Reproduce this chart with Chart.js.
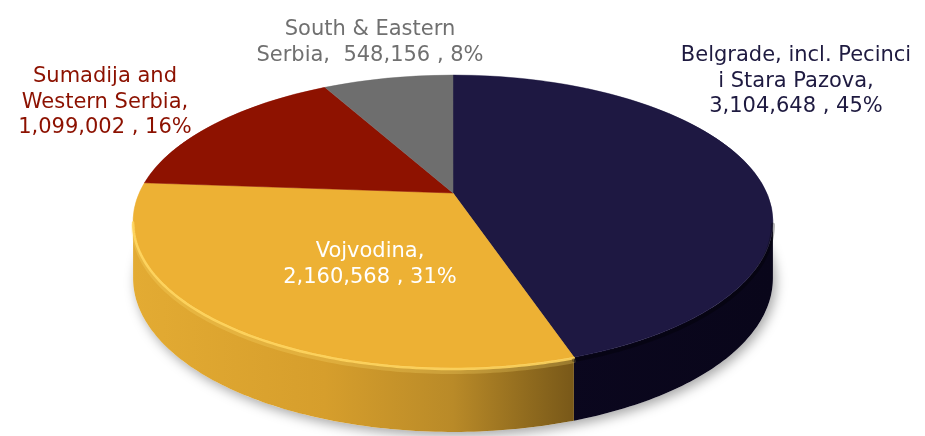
<!DOCTYPE html>
<html>
<head>
<meta charset="utf-8">
<script src="https://cdn.jsdelivr.net/npm/chart.js@4.4.1/dist/chart.umd.min.js"></script>
<style>
  html, body { margin: 0; padding: 0; background: #fff; }
  #wrap { width: 925px; height: 436px; }
</style>
</head>
<body>
<div id="wrap"><canvas id="pie" width="925" height="436"></canvas></div>
<script>
const regions = ["Belgrade, incl. Pecinci i Stara Pazova", "Vojvodina", "Sumadija and Western Serbia", "South & Eastern Serbia"];
const population = [3104648, 2160568, 1099002, 548156];
const topColors = ["#1e1842", "#edb134", "#8e1200", "#6e6e6e"];
const labelColors = ["#1e1a40", "#ffffff", "#8c1100", "#707070"];
// label text as it wraps in the picture, {v} is "value , pct%"
const labelLines = [
  ["Belgrade, incl. Pecinci", "i Stara Pazova,", "{v}"],
  ["Vojvodina,", "{v}"],
  ["Sumadija and", "Western Serbia,", "{v}"],
  ["South & Eastern", "Serbia,  {v}"],
];

// tilted view of the disc: y' = (a*v + b) / (1 + c*v), x' = cx + k*u / (1 + c*v)
const view = { cx: 453, a: 103.4, b: 193, c: -0.1945, k: 313.8 };
const labelAnchors = [[796, 61], [370, 257], [105, 82], [370, 35]];
const lineHeight = 25.5;

const wallStops = [
  [[0, "#0e0a24"], [0.6, "#0b071f"], [1, "#09061a"]],
  [[0, "#e3ab33"], [0.3, "#d69e2c"], [0.5, "#b98a28"], [0.62, "#8f6a1e"], [0.72, "#6e5016"]],
  [[0, "#5a0b00"], [1, "#5a0b00"]],
  [[0, "#444"], [1, "#444"]],
];

// the silhouette edges sit a little in front of 0 and PI
const edge = Math.asin(-view.c);

function project(theta, drop = 0) {
  const u = Math.cos(theta), v = Math.sin(theta);
  const den = 1 + view.c * v;
  return { x: view.cx + (view.k * u) / den, y: (view.a * v + view.b) / den + drop };
}

function wallDepth(theta) {
  return 55 + 9 * Math.max(0, Math.sin(theta));
}

function rimPoints(a1, a2, bottom) {
  const n = Math.max(4, Math.ceil((a2 - a1) * 60));
  const pts = [];
  for (let i = 0; i <= n; i++) {
    const t = a1 + ((a2 - a1) * i) / n;
    pts.push(project(t, bottom ? wallDepth(t) : 0));
  }
  return pts;
}

function strokeRim(ctx, a1, a2, dy, width, color) {
  a1 = Math.max(a1, edge);
  a2 = Math.min(a2, Math.PI - edge);
  if (a2 <= a1) {
    return;
  }
  const pts = rimPoints(a1, a2, false);
  ctx.lineWidth = width;
  ctx.strokeStyle = color;
  ctx.beginPath();
  pts.forEach((p, i) => (i ? ctx.lineTo(p.x, p.y + dy) : ctx.moveTo(p.x, p.y + dy)));
  ctx.stroke();
}

const pie3d = {
  id: "pie3d",
  beforeDatasetsDraw(chart) {
    const ctx = chart.ctx;
    const arcs = chart.getDatasetMeta(0).data;

    // soft shadow under the disc
    ctx.save();
    ctx.shadowColor = "rgba(0,0,0,0.35)";
    ctx.shadowBlur = 12;
    ctx.shadowOffsetY = 4;
    ctx.shadowOffsetX = 3;
    ctx.fillStyle = "#fff";
    ctx.beginPath();
    rimPoints(0, Math.PI * 2, true).forEach((p, i) => (i ? ctx.lineTo(p.x, p.y) : ctx.moveTo(p.x, p.y)));
    ctx.closePath();
    ctx.fill();
    ctx.restore();

    // side walls of the visible front
    ctx.save();
    arcs.forEach((arc, i) => {
      const a1 = Math.max(arc.startAngle, edge);
      const a2 = Math.min(arc.endAngle, Math.PI - edge);
      if (a2 <= a1) {
        return;
      }
      const g = ctx.createLinearGradient(view.cx - 320, 0, view.cx + 320, 0);
      wallStops[i].forEach(([o, c]) => g.addColorStop(o, c));
      ctx.fillStyle = g;
      const top = rimPoints(a1, a2, false);
      const bot = rimPoints(a1, a2, true).reverse();
      ctx.beginPath();
      top.concat(bot).forEach((p, k) => (k ? ctx.lineTo(p.x, p.y) : ctx.moveTo(p.x, p.y)));
      ctx.closePath();
      ctx.fill();
    });
    ctx.restore();

    // top face: the library's arcs, drawn row by row through the tilted view
    const first = arcs[0];
    const R = first.outerRadius, X0 = first.x, Y0 = first.y;
    const yTop = Math.floor(project(-Math.PI / 2).y) - 1;
    const yBot = Math.ceil(project(Math.PI / 2).y) + 1;
    for (let r = yTop; r < yBot; r++) {
      const ym = r + 0.5;
      const v = (ym - view.b) / (view.a - view.c * ym);
      const den = 1 + view.c * v;
      const s = view.k / den;
      const t = (view.a - view.c * view.b) / (den * den);
      ctx.save();
      ctx.beginPath();
      ctx.rect(0, r, chart.width, 1);
      ctx.clip();
      ctx.setTransform(s / R, 0, 0, t / R, view.cx - (s * X0) / R, ym - t * v - (t * Y0) / R);
      arcs.forEach((arc) => arc.draw(ctx));
      ctx.restore();
    }

    // bevel along the front rim
    ctx.save();
    ctx.lineCap = "round";
    const gold = arcs[1];
    strokeRim(ctx, gold.startAngle, gold.endAngle, 4, 4, "rgba(255,222,110,0.25)");
    strokeRim(ctx, gold.startAngle, gold.endAngle, 1, 2.5, "rgba(255,214,96,0.9)");
    strokeRim(ctx, 0, arcs[0].endAngle, 3, 4, "rgba(0,0,0,0.3)");
    ctx.restore();

    return false;
  },
  afterDraw(chart) {
    const ctx = chart.ctx;
    const total = population.reduce((a, b) => a + b, 0);
    ctx.save();
    ctx.font = '21px "DejaVu Sans"';
    ctx.textAlign = "center";
    ctx.textBaseline = "alphabetic";
    population.forEach((v, i) => {
      const valueText = v.toLocaleString("en-US") + " , " + Math.round((v / total) * 100) + "%";
      const [x, y] = labelAnchors[i];
      ctx.fillStyle = labelColors[i];
      labelLines[i].forEach((line, k) => {
        ctx.fillText(line.replace("{v}", valueText), x, y + k * lineHeight);
      });
    });
    ctx.restore();
  },
};

new Chart(document.getElementById("pie"), {
  type: "pie",
  data: {
    labels: regions,
    datasets: [
      {
        data: population,
        backgroundColor: topColors,
        borderColor: topColors,
        borderWidth: 0.5,
      },
    ],
  },
  options: {
    responsive: false,
    animation: false,
    events: [],
    layout: { padding: 0 },
    plugins: {
      legend: { display: false },
      tooltip: { enabled: false },
    },
  },
  plugins: [pie3d],
});
</script>
</body>
</html>
